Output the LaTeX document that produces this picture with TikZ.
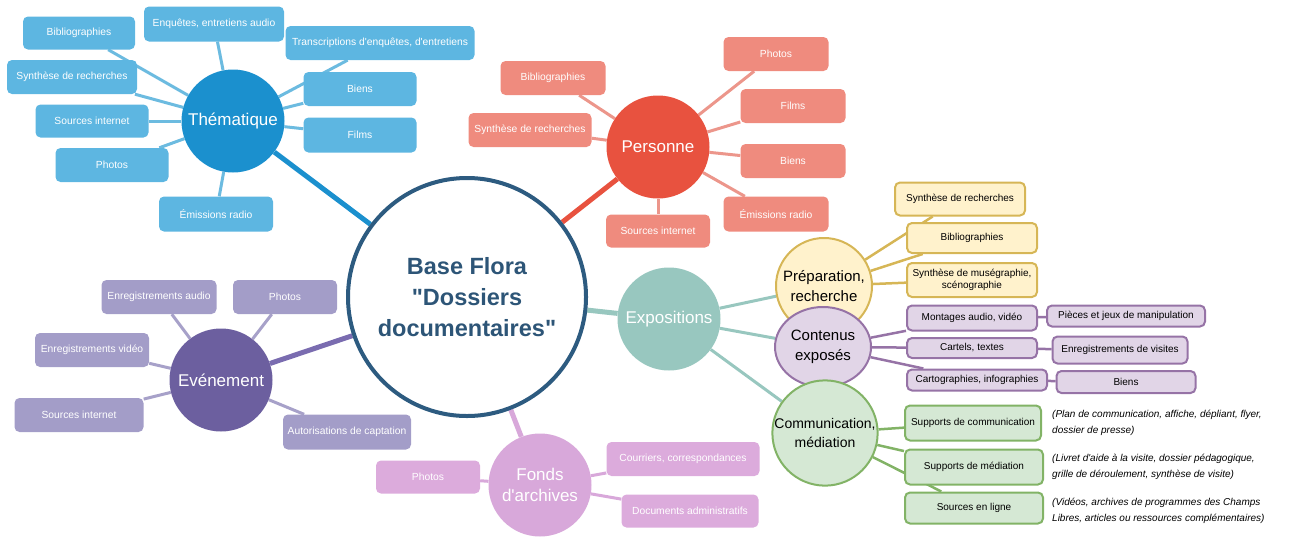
\documentclass[tikz,border=0pt]{standalone}
\usepackage{fontspec}
\setmainfont{Liberation Sans}[Ligatures=TeXOff]
\usetikzlibrary{shapes.geometric,backgrounds}
\definecolor{thC}{HTML}{1B90CE}
\definecolor{thB}{HTML}{5DB6E1}
\definecolor{thL}{HTML}{6CBBE0}
\definecolor{peC}{HTML}{E8523F}
\definecolor{peB}{HTML}{EF8B7E}
\definecolor{peL}{HTML}{EC968B}
\definecolor{evC}{HTML}{6C5F9F}
\definecolor{evB}{HTML}{A39DC8}
\definecolor{evL}{HTML}{A7A1C9}
\definecolor{evM}{HTML}{7A6CB0}
\definecolor{foC}{HTML}{D8A8DA}
\definecolor{foB}{HTML}{DCABDC}
\definecolor{exC}{HTML}{98C7BF}
\definecolor{ceB}{HTML}{2D5B80}
\definecolor{ceT}{HTML}{2D5577}
\definecolor{yeF}{HTML}{FFF2CC}
\definecolor{yeD}{HTML}{D6B656}
\definecolor{puF}{HTML}{E1D5E7}
\definecolor{puD}{HTML}{9673A6}
\definecolor{grF}{HTML}{D5E8D4}
\definecolor{grD}{HTML}{82B366}
\begin{document}
\begin{tikzpicture}[x=1pt,y=-1pt,
  box/.style={rounded corners=5pt, inner sep=1pt, align=center, minimum height=34pt,
    font=\fontsize{10.3}{12}\selectfont},
  thbox/.style={box, fill=thB, text=white},
  pebox/.style={box, fill=peB, text=white},
  evbox/.style={box, fill=evB, text=white},
  fobox/.style={box, fill=foB, text=white},
  ybox/.style={box, fill=yeF, draw=yeD, line width=2pt, font=\fontsize{10}{11.5}\selectfont},
  pbox/.style={box, fill=puF, draw=puD, line width=2pt, font=\fontsize{10}{11.5}\selectfont},
  gbox/.style={box, fill=grF, draw=grD, line width=2pt, font=\fontsize{10}{11.5}\selectfont},
  bigc/.style={circle, inner sep=0pt, minimum size=103pt, text=white, align=center,
    font=\fontsize{17}{21}\selectfont},
  subc/.style={inner sep=0pt, align=center, line width=2pt, font=\fontsize{15}{20}\selectfont},
  note/.style={anchor=west, align=left, inner sep=0pt, font=\fontsize{10}{15.5}\selectfont\itshape},
  thin/.style={line width=3pt},
  main/.style={line width=5pt}
]
\useasboundingbox (0,0) rectangle (1289,541);
% central
\node[circle, minimum size=238pt, inner sep=0pt, fill=white, draw=ceB, line width=4pt,
  text=ceT, align=center, font=\fontsize{23.5}{31}\selectfont\bfseries] (cen) at (467,297)
  {Base Flora\\"Dossiers\\documentaires"};
% Thematique
\node[bigc, fill=thC] (th) at (233,121) {Thématique};
\node[thbox, minimum width=112pt, minimum height=33pt] (t1) at (79,33) {Bibliographies};
\node[thbox, minimum width=140pt, minimum height=35pt] (t2) at (214,24) {Enquêtes, entretiens audio};
\node[thbox, minimum width=189pt] (t3) at (380,43) {Transcriptions d'enquêtes, d'entretiens};
\node[thbox, minimum width=130pt] (t4) at (72,77) {Synthèse de recherches};
\node[thbox, minimum width=113pt] (t5) at (360,89) {Biens};
\node[thbox, minimum width=113pt, minimum height=33pt] (t6) at (92,121) {Sources internet};
\node[thbox, minimum width=113pt, minimum height=35pt] (t7) at (360,135) {Films};
\node[thbox, minimum width=113pt] (t8) at (112,165) {Photos};
\node[thbox, minimum width=114pt, minimum height=35pt] (t9) at (216,214) {Émissions radio};
% Personne
\node[bigc, fill=peC] (pe) at (658,147) {Personne};
\node[pebox, minimum width=105pt] (p1) at (776,54) {Photos};
\node[pebox, minimum width=105pt] (p2) at (553,78) {Bibliographies};
\node[pebox, minimum width=105pt] (p3) at (793,106) {Films};
\node[pebox, minimum width=123pt] (p4) at (530,130) {Synthèse de recherches};
\node[pebox, minimum width=105pt] (p5) at (793,161) {Biens};
\node[pebox, minimum width=105pt, minimum height=35pt] (p6) at (776,214) {Émissions radio};
\node[pebox, minimum width=104pt, minimum height=33pt] (p7) at (658,231) {Sources internet};
% Evenement
\node[bigc, fill=evC] (ev) at (221,380) {Evénement};
\node[evbox, minimum width=115pt] (e1) at (159,297) {Enregistrements audio};
\node[evbox, minimum width=104pt] (e2) at (285,297) {Photos};
\node[evbox, minimum width=114pt] (e3) at (92,350) {Enregistrements vidéo};
\node[evbox, minimum width=129pt] (e4) at (79,415) {Sources internet};
\node[evbox, minimum width=128pt, minimum height=35pt] (e5) at (347,432) {Autorisations de captation};
% Fonds
\node[bigc, fill=foC] (fo) at (540,485) {Fonds\\d'archives};
\node[fobox, minimum width=104pt, minimum height=33pt] (f1) at (428,477) {Photos};
\node[fobox, minimum width=153pt] (f2) at (683,459) {Courriers, correspondances};
\node[fobox, minimum width=137pt, minimum height=33pt] (f3) at (690,511) {Documents administratifs};
% Expositions
\node[bigc, fill=exC] (ex) at (669,319) {Expositions};
\node[subc, circle, minimum size=96pt, fill=yeF, draw=yeD] (pr) at (824,286) {Préparation,\\recherche};
\node[subc, ellipse, minimum width=96pt, minimum height=80pt, fill=puF, draw=puD] (co) at (823,347) {Contenus\\exposés};
\node[subc, circle, minimum size=100pt, fill=grF, draw=grD, font=\fontsize{14}{19}\selectfont] (cm) at (825,433) {Communication,\\médiation};
\node[ybox, minimum width=130pt, minimum height=33pt] (y1) at (960,199) {Synthèse de recherches};
\node[ybox, minimum width=130pt, minimum height=30pt] (y2) at (972,238) {Bibliographies};
\node[ybox, minimum width=130pt, minimum height=34pt, font=\fontsize{10}{12}\selectfont] (y3) at (972,280) {Synthèse de muségraphie,\\scénographie};
\node[pbox, minimum width=130pt, minimum height=25pt] (c1) at (972,318) {Montages audio, vidéo};
\node[pbox, minimum width=158pt, minimum height=21pt] (c2) at (1126,316) {Pièces et jeux de manipulation};
\node[pbox, minimum width=130pt, minimum height=20pt] (c3) at (972,348) {Cartels, textes};
\node[pbox, minimum width=135pt, minimum height=27pt] (c4) at (1120,350) {Enregistrements de visites};
\node[pbox, minimum width=140pt, minimum height=21pt] (c5) at (977,380) {Cartographies, infographies};
\node[pbox, minimum width=139pt, minimum height=22pt] (c6) at (1126,382) {Biens};
\node[gbox, minimum width=136pt, minimum height=35pt] (g1) at (973,423) {Supports de communication};
\node[gbox, minimum width=138pt, minimum height=35pt] (g2) at (974,467) {Supports de médiation};
\node[gbox, minimum width=138pt, minimum height=31pt] (g3) at (974,508) {Sources en ligne};
\node[note] (n1) at (1052,423) {(Plan de communication, affiche, dépliant, flyer,\\dossier de presse)};
\node[note] (n2) at (1052,467) {(Livret d'aide à la visite, dossier pédagogique,\\grille de déroulement, synthèse de visite)};
\node[note] (n3) at (1052,511) {(Vidéos, archives de programmes des Champs\\Libres, articles ou ressources complémentaires)};
\begin{scope}[on background layer]
  \draw[main, thC] (cen) -- (th);
  \draw[main, peC] (cen) -- (pe);
  \draw[main, evM] (cen) -- (ev);
  \draw[main, foC] (cen) -- (fo);
  \draw[main, exC] (cen) -- (ex);
  \foreach \b in {t1,t2,t3,t4,t5,t6,t7,t8,t9} \draw[thin, thL] (th) -- (\b);
  \foreach \b in {p1,p2,p3,p4,p5,p6,p7} \draw[thin, peL] (pe) -- (\b);
  \foreach \b in {e1,e2,e3,e4,e5} \draw[thin, evL] (ev) -- (\b);
  \foreach \b in {f1,f2,f3} \draw[thin, foC] (fo) -- (\b);
  \foreach \b in {pr,co,cm} \draw[thin, exC] (ex) -- (\b);
  \foreach \b in {y1,y2,y3} \draw[line width=2.5pt, yeD] (pr) -- (\b);
  \foreach \b in {c1,c3,c5} \draw[line width=2.5pt, puD] (co) -- (\b);
  \draw[line width=2.5pt, puD] (c1) -- (c2);
  \draw[line width=2.5pt, puD] (c3) -- (c4);
  \draw[line width=2.5pt, puD] (c5) -- (c6);
  \foreach \b in {g1,g2,g3} \draw[line width=2.5pt, grD] (cm) -- (\b);
\end{scope}
\end{tikzpicture}
\end{document}
